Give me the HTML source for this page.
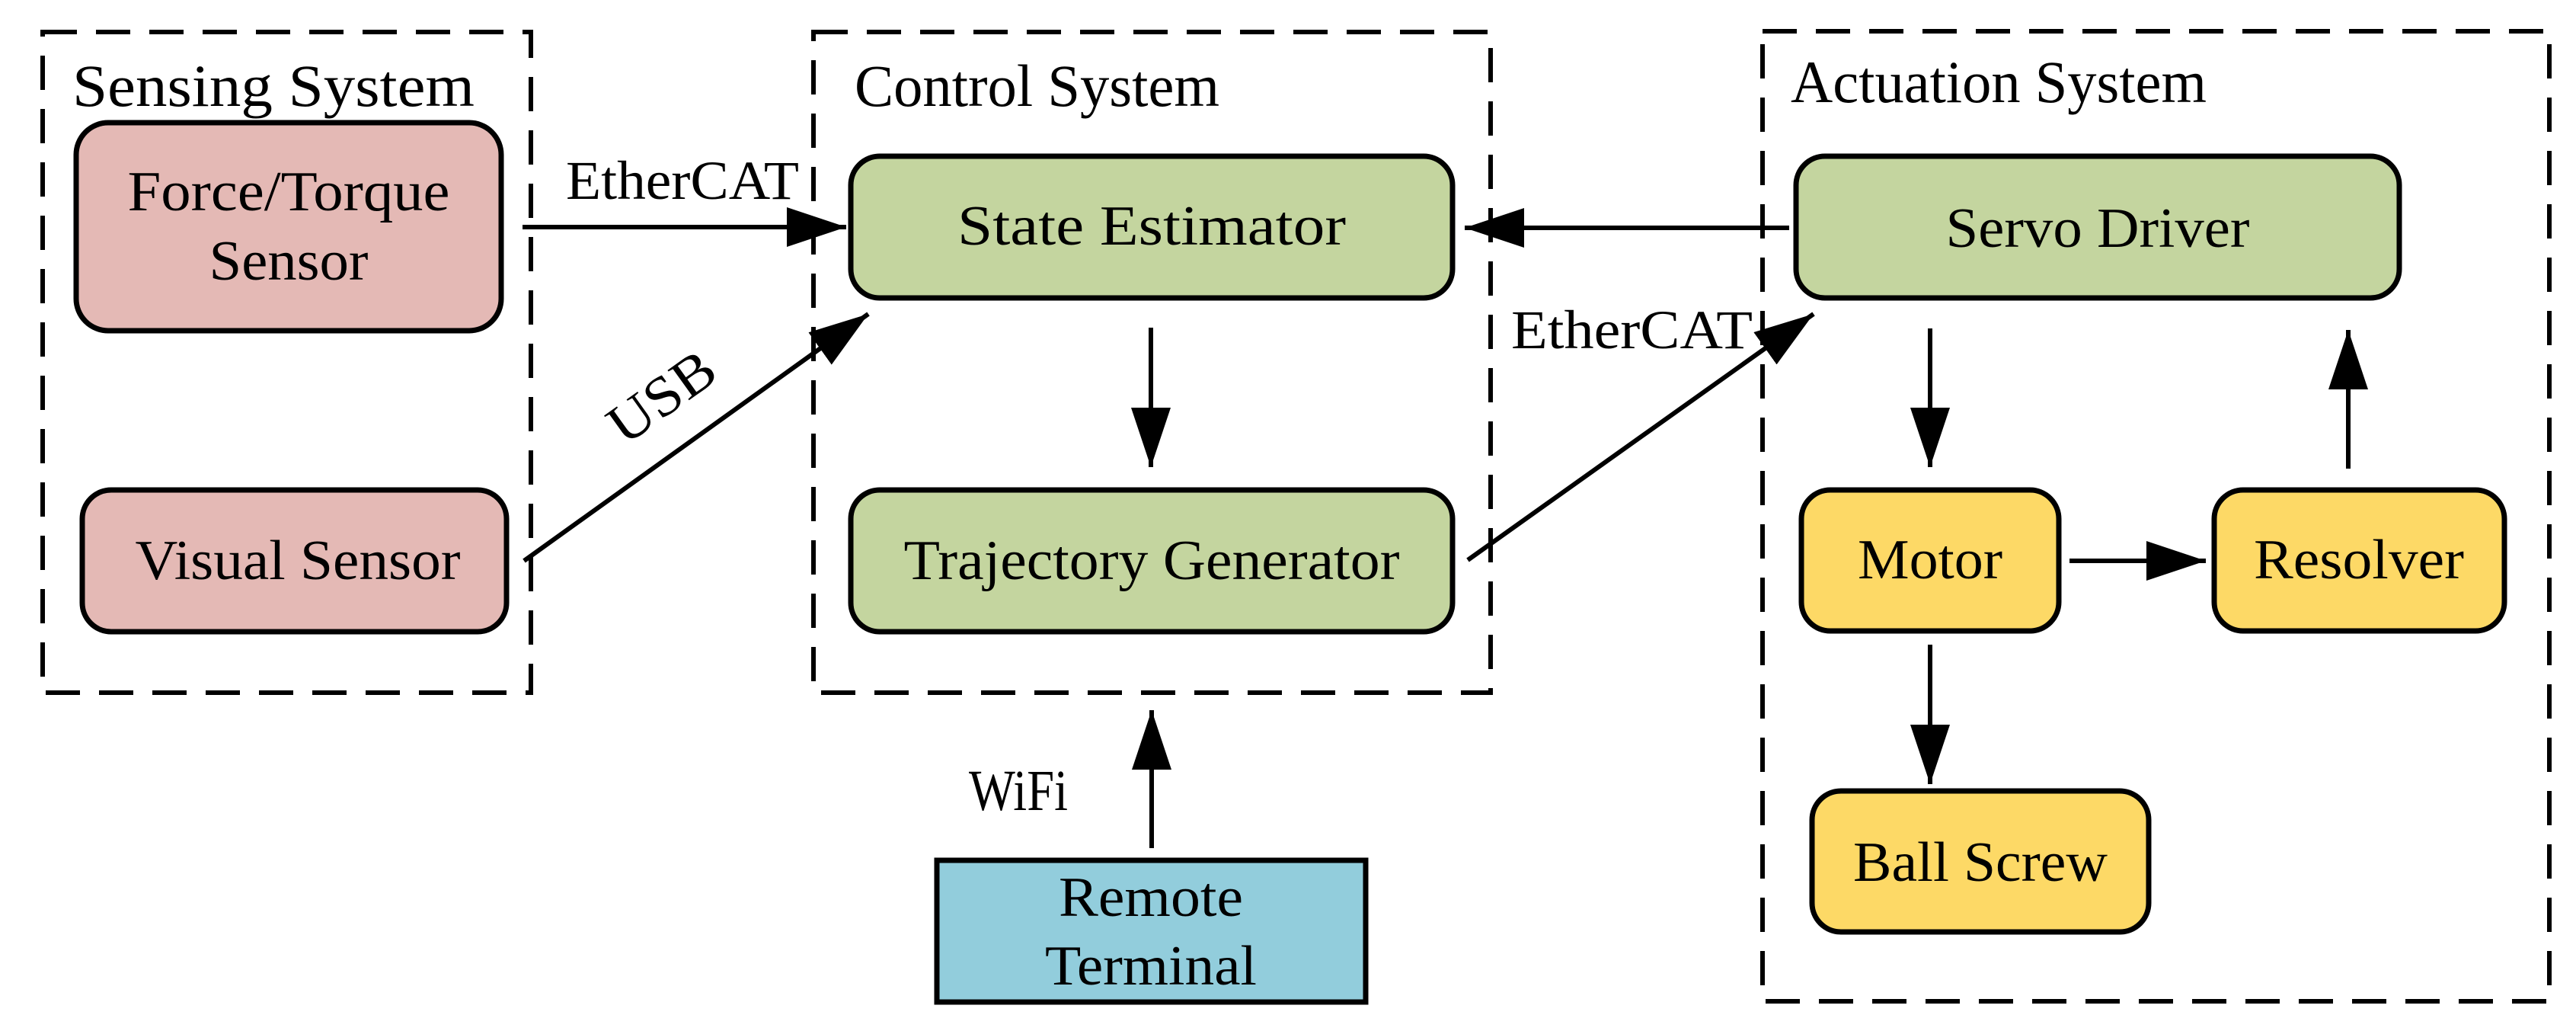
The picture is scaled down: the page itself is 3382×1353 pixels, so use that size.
<!DOCTYPE html>
<html><head><meta charset="utf-8"><style>html,body{margin:0;padding:0;background:#fff}svg{display:block}</style></head>
<body>
<svg width="3382" height="1353" viewBox="0 0 3382 1353" xmlns="http://www.w3.org/2000/svg" font-family="'Liberation Serif', serif">
<defs>
<marker id="a" markerUnits="userSpaceOnUse" markerWidth="80" markerHeight="52" refX="78" refY="26" orient="auto">
<path d="M0,0 L78,26 L0,52 Z" fill="#000"/>
</marker>
</defs>
<g fill="none" stroke="#000" stroke-width="6" stroke-dasharray="45,25">
<rect x="56" y="42" width="641" height="867"/>
<rect x="1068" y="42" width="889" height="867"/>
<rect x="2314" y="41" width="1033" height="1273"/>
</g>
<g stroke="#000" stroke-width="7">
<rect x="100" y="161" width="558" height="273" rx="42" fill="#e4b9b5"/>
<rect x="108" y="643" width="557" height="186" rx="38" fill="#e4b9b5"/>
<rect x="1117" y="205" width="790" height="186" rx="38" fill="#c4d59f"/>
<rect x="1117" y="643" width="790" height="186" rx="38" fill="#c4d59f"/>
<rect x="2358" y="205" width="792" height="186" rx="38" fill="#c4d59f"/>
<rect x="2365" y="643" width="338" height="185" rx="38" fill="#fdd966"/>
<rect x="2907" y="643" width="381" height="185" rx="38" fill="#fdd966"/>
<rect x="2379" y="1038" width="442" height="185" rx="38" fill="#fdd966"/>
<rect x="1230" y="1129" width="563" height="186" fill="#92cddc"/>
</g>
<g stroke="#000" stroke-width="6" marker-end="url(#a)">
<line x1="686" y1="298" x2="1111" y2="298"/>
<line x1="688" y1="736" x2="1140" y2="412"/>
<line x1="2349" y1="299" x2="1923" y2="299"/>
<line x1="1927" y1="735" x2="2381" y2="412"/>
<line x1="1511" y1="430" x2="1511" y2="613"/>
<line x1="2534" y1="431" x2="2534" y2="613"/>
<line x1="2717" y1="736" x2="2896" y2="736"/>
<line x1="3083" y1="615" x2="3083" y2="433"/>
<line x1="2534" y1="846" x2="2534" y2="1029"/>
<line x1="1512" y1="1113" x2="1512" y2="932"/>
</g>
<g font-size="78" fill="#000">
<text x="95" y="139" textLength="528" lengthAdjust="spacingAndGlyphs">Sensing System</text>
<text x="1122" y="139" textLength="479" lengthAdjust="spacingAndGlyphs">Control System</text>
<text x="2351" y="134" textLength="546" lengthAdjust="spacingAndGlyphs">Actuation System</text>
</g>
<g font-size="72" fill="#000">
<text x="743" y="261" textLength="306" lengthAdjust="spacingAndGlyphs">EtherCAT</text>
<text x="1984" y="457" textLength="317" lengthAdjust="spacingAndGlyphs">EtherCAT</text>
<text x="1272" y="1063" font-size="76" textLength="130" lengthAdjust="spacingAndGlyphs">WiFi</text>
<text transform="translate(873,527) rotate(-35.6)" text-anchor="middle" dominant-baseline="middle" font-size="74" textLength="155" lengthAdjust="spacingAndGlyphs">USB</text>
</g>
<g font-size="74" fill="#000" text-anchor="middle">
<text x="379" y="276" textLength="423" lengthAdjust="spacingAndGlyphs">Force/Torque</text>
<text x="379" y="367" textLength="209" lengthAdjust="spacingAndGlyphs">Sensor</text>
<text x="391" y="760" textLength="427" lengthAdjust="spacingAndGlyphs">Visual Sensor</text>
<text x="1512" y="321" textLength="510" lengthAdjust="spacingAndGlyphs">State Estimator</text>
<text x="1512" y="760" textLength="651" lengthAdjust="spacingAndGlyphs">Trajectory Generator</text>
<text x="2754" y="324" textLength="399" lengthAdjust="spacingAndGlyphs">Servo Driver</text>
<text x="2534" y="759" textLength="190" lengthAdjust="spacingAndGlyphs">Motor</text>
<text x="3097" y="759" textLength="276" lengthAdjust="spacingAndGlyphs">Resolver</text>
<text x="2600" y="1156" textLength="334" lengthAdjust="spacingAndGlyphs">Ball Screw</text>
<text x="1511" y="1202" textLength="242" lengthAdjust="spacingAndGlyphs">Remote</text>
<text x="1511" y="1292" textLength="278" lengthAdjust="spacingAndGlyphs">Terminal</text>
</g>
</svg>
</body></html>
